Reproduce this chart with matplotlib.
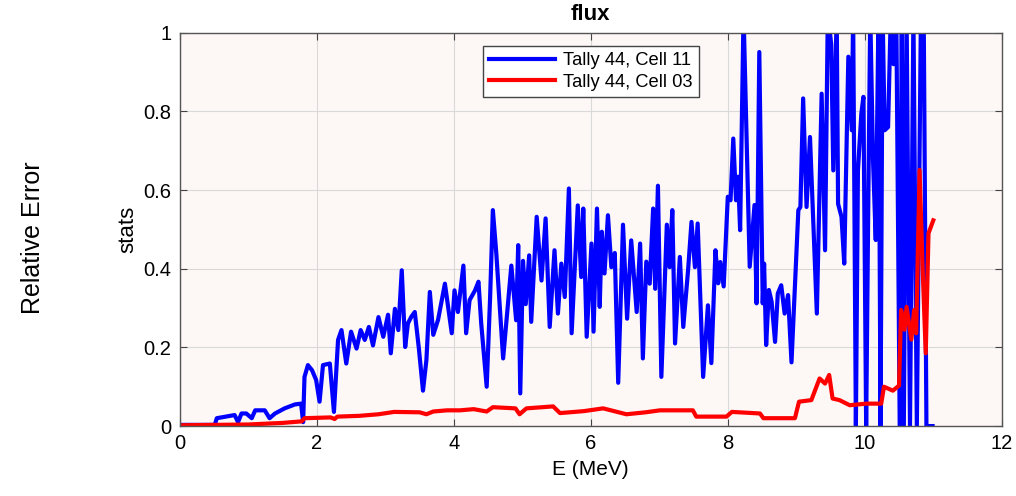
import numpy as np
import matplotlib
matplotlib.use("Agg")
import matplotlib.pyplot as plt

plt.rcParams['font.family'] = ['Liberation Sans', 'DejaVu Sans']

# Tally 44, Cell 11 (relative error vs energy)
e_cell11 = [0.0, 0.51, 0.54, 0.8, 0.85, 0.9, 0.97, 1.05, 1.1, 1.24, 1.31, 1.39,
            1.53, 1.68, 1.77, 1.8, 1.82, 1.87, 1.93, 1.99, 2.04, 2.09, 2.19, 2.25,
            2.31, 2.36, 2.43, 2.5, 2.58, 2.64, 2.7, 2.76, 2.82, 2.9, 2.97, 3.04,
            3.08, 3.14, 3.19, 3.24, 3.29, 3.33, 3.38, 3.43, 3.49, 3.55, 3.6, 3.65,
            3.7, 3.77, 3.87, 3.97, 4.01, 4.06, 4.14, 4.18, 4.23, 4.31, 4.36, 4.4,
            4.48, 4.53, 4.57, 4.62, 4.72, 4.84, 4.91, 4.94, 4.97, 5.01, 5.05, 5.1,
            5.13, 5.21, 5.28, 5.34, 5.4, 5.47, 5.52, 5.57, 5.62, 5.68, 5.72, 5.81,
            5.86, 5.89, 5.94, 6.01, 6.04, 6.09, 6.13, 6.16, 6.2, 6.25, 6.3, 6.35,
            6.4, 6.47, 6.53, 6.59, 6.67, 6.72, 6.76, 6.81, 6.86, 6.91, 6.94, 6.98,
            7.03, 7.11, 7.15, 7.19, 7.23, 7.3, 7.35, 7.42, 7.47, 7.52, 7.56, 7.64,
            7.71, 7.76, 7.82, 7.86, 7.89, 7.94, 8.0, 8.04, 8.08, 8.12, 8.15, 8.18,
            8.23, 8.32, 8.39, 8.42, 8.46, 8.51, 8.53, 8.56, 8.6, 8.64, 8.69, 8.73,
            8.78, 8.83, 8.88, 8.93, 8.98, 9.03, 9.06, 9.1, 9.15, 9.2, 9.3, 9.37,
            9.42, 9.46, 9.51, 9.54, 9.59, 9.61, 9.66, 9.7, 9.76, 9.81, 9.83, 9.87,
            9.9, 9.95, 9.98, 10.02, 10.05, 10.08, 10.12, 10.16, 10.2, 10.23, 10.26,
            10.29, 10.34, 10.38, 10.42, 10.46, 10.51, 10.54, 10.57, 10.61, 10.66,
            10.71, 10.76, 10.82, 10.86, 10.9, 10.99]
rel_cell11 = [0.003, 0.003, 0.02, 0.028, 0.01, 0.032, 0.032, 0.02, 0.04, 0.04, 0.02, 0.032,
              0.045, 0.055, 0.057, 0.01, 0.125, 0.155, 0.142, 0.117, 0.062, 0.155, 0.159, 0.036,
              0.219, 0.244, 0.159, 0.24, 0.197, 0.244, 0.219, 0.252, 0.205, 0.277, 0.227, 0.283,
              0.185, 0.298, 0.244, 0.396, 0.201, 0.261, 0.278, 0.29, 0.197, 0.09, 0.168, 0.341,
              0.232, 0.27, 0.362, 0.236, 0.345, 0.29, 0.408, 0.236, 0.32, 0.345, 0.367, 0.261,
              0.1, 0.328, 0.549, 0.44, 0.172, 0.408, 0.269, 0.46, 0.083, 0.42, 0.31, 0.434,
              0.265, 0.532, 0.37, 0.528, 0.252, 0.447, 0.286, 0.413, 0.328, 0.604, 0.236, 0.561,
              0.379, 0.553, 0.227, 0.464, 0.24, 0.553, 0.303, 0.494, 0.388, 0.536, 0.404, 0.44,
              0.11, 0.512, 0.273, 0.472, 0.29, 0.464, 0.172, 0.418, 0.362, 0.553, 0.349, 0.611,
              0.125, 0.512, 0.404, 0.549, 0.21, 0.43, 0.252, 0.396, 0.519, 0.404, 0.515, 0.125,
              0.307, 0.16, 0.447, 0.363, 0.417, 0.355, 0.583, 0.574, 0.731, 0.574, 0.634, 0.498,
              1.05, 0.405, 0.562, 0.312, 0.951, 0.312, 0.413, 0.206, 0.346, 0.316, 0.214, 0.337,
              0.358, 0.286, 0.333, 0.162, 0.354, 0.549, 0.557, 0.833, 0.557, 0.735, 0.286, 0.845,
              0.447, 1.05, 0.97, 0.65, 1.05, 0.565, 0.532, 0.413, 0.939, 0.752, 1.05, 0.0,
              0.65, 0.795, 0.837, 0.0, 0.549, 1.05, 0.677, 0.473, 1.05, 0.0, 1.05,
              0.752, 0.76, 1.05, 0.92, 1.05, 0.0, 1.05, 0.0, 1.05, 0.0,
              1.05, 0.0, 1.05, 1.05, 0.0, 0.0]

# Tally 44, Cell 03
e_cell03 = [0.0, 0.5, 1.0, 1.5, 1.78, 1.82, 2.2, 2.26, 2.3, 2.62, 2.9, 3.13, 3.5, 3.6,
            3.7, 3.9, 4.09, 4.29, 4.48, 4.57, 4.9, 4.96, 5.06, 5.45, 5.55, 5.9, 6.18,
            6.52, 6.8, 7.01, 7.49, 7.54, 7.98, 8.06, 8.47, 8.52, 8.98, 9.04, 9.22,
            9.34, 9.42, 9.48, 9.53, 9.63, 9.78, 10.02, 10.24, 10.28, 10.41, 10.5,
            10.53, 10.58, 10.61, 10.68, 10.72, 10.75, 10.8, 10.84, 10.89, 10.93, 11.0]
rel_cell03 = [0.002, 0.003, 0.004, 0.008, 0.012, 0.02, 0.022, 0.018, 0.024, 0.026, 0.03, 0.036,
              0.035, 0.03, 0.037, 0.04, 0.04, 0.043, 0.037, 0.048, 0.045, 0.03, 0.045, 0.05,
              0.033, 0.038, 0.045, 0.03, 0.035, 0.04, 0.04, 0.024, 0.024, 0.036, 0.032, 0.02,
              0.02, 0.062, 0.066, 0.121, 0.108, 0.13, 0.07, 0.066, 0.053, 0.057, 0.057, 0.1,
              0.09, 0.103, 0.295, 0.245, 0.303, 0.22, 0.295, 0.236, 0.651, 0.422, 0.185,
              0.49, 0.523]

fig = plt.figure(figsize=(10.16, 4.96), dpi=100)
ax = fig.add_axes([0.177, 0.141, 0.809, 0.793])
ax.set_facecolor('#fdf7f6')

ax.plot(e_cell11, rel_cell11, color='#0000ff', lw=3.0, label='Tally 44, Cell 11')
ax.plot(e_cell03, rel_cell03, color='#ff0000', lw=3.0, label='Tally 44, Cell 03')

ax.set_xlim(0, 12)
ax.set_ylim(0, 1)
ax.set_xticks(np.arange(0, 13, 2))
ax.set_yticks([0, 0.2, 0.4, 0.6, 0.8, 1])
ax.set_yticklabels(['0', '0.2', '0.4', '0.6', '0.8', '1'])
ax.grid(True, color='#d9d9d9', lw=0.8)
ax.tick_params(direction='in', top=True, right=True, labelsize=14.5,
               color='#444444', length=5, pad=6)
for s in ax.spines.values():
    s.set_color('#555555')
    s.set_linewidth(1.0)

ax.set_title('flux', fontsize=16, fontweight='bold', pad=9)
ax.set_xlabel('E (MeV)', fontsize=15, labelpad=5)
ax.set_ylabel('stats', fontsize=16, labelpad=4)

leg = ax.legend(loc='upper center', fontsize=13.2, frameon=True, fancybox=False,
                handlelength=3.6, handletextpad=0.4, borderpad=0.35,
                labelspacing=0.25, bbox_to_anchor=(0.5, 0.99))
leg.get_frame().set_edgecolor('#444444')
leg.get_frame().set_facecolor('white')
leg.get_frame().set_alpha(1)

fig.text(0.032, 0.52, 'Relative Error', rotation=90, fontsize=18,
         ha='center', va='center')

fig.savefig('out.png', dpi=100)
